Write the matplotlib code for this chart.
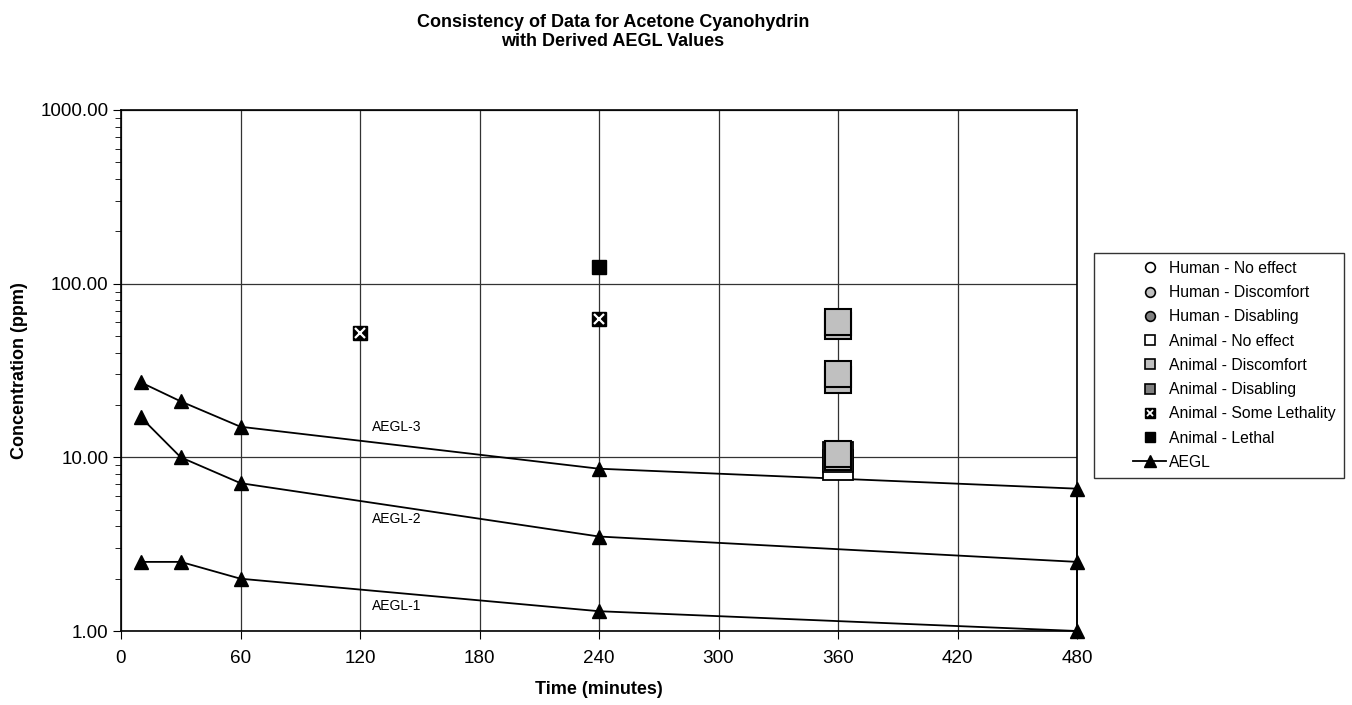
import numpy as np
import matplotlib.pyplot as plt
from matplotlib.lines import Line2D
from matplotlib.legend_handler import HandlerLine2D, HandlerTuple

plt.rcParams['font.family'] = ['Liberation Sans', 'DejaVu Sans']

# AEGL values (ppm) at 10, 30, 60, 240, 480 min
aegl_t = [10, 30, 60, 240, 480]
aegl1 = [2.5, 2.5, 2.0, 1.3, 1.0]
aegl2 = [17, 10, 7.1, 3.5, 2.5]
aegl3 = [27, 21, 15, 8.6, 6.6]

# animal data
noeff_t = [360, 360]
noeff_c = [9.0, 10.0]
discomf_t = [360, 360, 360, 360, 360, 360]
discomf_c = [57, 60, 28, 30, 10.0, 10.5]
somelet_t = [120, 240]
somelet_c = [52, 63]
lethal_t = [240]
lethal_c = [125]

fig = plt.figure(figsize=(13.52, 7.05), dpi=100)
ax = fig.add_axes([121/1352, 1-631/705, (1077-121)/1352, (631-110)/705])

ax.set_yscale('log')
ax.set_xlim(0, 480)
ax.set_ylim(1, 1000)
ax.set_xticks(np.arange(0, 481, 60))
ax.set_yticks([1, 10, 100, 1000])
ax.set_yticklabels(['1.00', '10.00', '100.00', '1000.00'])
ax.grid(True, which='major', color='#333333', lw=0.9)
ax.tick_params(which='both', direction='out', labelsize=13.6, color='black')
ax.tick_params(which='major', length=6)
ax.tick_params(which='minor', length=4)
ax.tick_params(axis='x', pad=8)
ax.tick_params(axis='y', pad=3)
for s in ax.spines.values():
    s.set_color('black')
    s.set_linewidth(1.2)

# AEGL lines
for vals in (aegl1, aegl2, aegl3):
    ax.plot(aegl_t, vals, color='black', lw=1.3, marker='^', ms=10, zorder=4, clip_on=False)
ax.plot([aegl_t[-1]] * 3, [aegl1[-1], aegl2[-1], aegl3[-1]], color='black', lw=1.3, zorder=4,
        clip_on=False)

ax.text(126, 14.9, 'AEGL-3', fontsize=10, va='center')
ax.text(126, 4.4, 'AEGL-2', fontsize=10, va='center')
ax.text(126, 1.39, 'AEGL-1', fontsize=10, va='center')

# data points
ax.plot(noeff_t, noeff_c, ls='none', marker='s', ms=21, mfc='white', mec='black', mew=1.3, zorder=5)
for c in discomf_c:
    ax.plot([discomf_t[0]], [c], ls='none', marker='s', ms=18.5, mfc='#c0c0c0', mec='black',
            mew=1.5, zorder=6)
ax.plot(somelet_t, somelet_c, ls='none', marker='s', ms=10, mfc='black', mec='black', zorder=6)
ax.plot(somelet_t, somelet_c, ls='none', marker='x', ms=7, mec='white', mew=1.6, zorder=7)
ax.plot(lethal_t, lethal_c, ls='none', marker='s', ms=10, mfc='black', mec='black', zorder=6)

ax.set_xlabel('Time (minutes)', fontsize=13, fontweight='bold', labelpad=10)
ax.set_ylabel('Concentration (ppm)', fontsize=13, fontweight='bold', labelpad=9)

fig.text(613/1352, 1-32/705, 'Consistency of Data for Acetone Cyanohydrin\nwith Derived AEGL Values',
         ha='center', va='center', fontsize=13, fontweight='bold', linespacing=1.12)

# legend
ms = 7
handles = [
    Line2D([], [], ls='none', marker='o', ms=ms, mfc='white', mec='black', mew=1.2),
    Line2D([], [], ls='none', marker='o', ms=ms, mfc='#c0c0c0', mec='black', mew=1.2),
    Line2D([], [], ls='none', marker='o', ms=ms, mfc='#808080', mec='black', mew=1.2),
    Line2D([], [], ls='none', marker='s', ms=ms, mfc='white', mec='black', mew=1.2),
    Line2D([], [], ls='none', marker='s', ms=ms, mfc='#c0c0c0', mec='black', mew=1.2),
    Line2D([], [], ls='none', marker='s', ms=ms, mfc='#808080', mec='black', mew=1.2),
    (Line2D([], [], ls='none', marker='s', ms=ms, mfc='black', mec='black'),
     Line2D([], [], ls='none', marker='x', ms=5, mec='white', mew=1.3)),
    Line2D([], [], ls='none', marker='s', ms=ms, mfc='black', mec='black'),
    Line2D([], [], color='black', lw=1.3, marker='^', ms=8),
]
labels = ['Human - No effect', 'Human - Discomfort', 'Human - Disabling',
          'Animal - No effect', 'Animal - Discomfort', 'Animal - Disabling',
          'Animal - Some Lethality', 'Animal - Lethal', 'AEGL']
leg = fig.legend(handles, labels, loc='upper left', bbox_to_anchor=(1094/1352, 1-253/705),
                 fontsize=11.3, frameon=True, fancybox=False, edgecolor='black',
                 handlelength=4.1, handletextpad=0.2, labelspacing=0.59, borderpad=0.5,
                 borderaxespad=0,
                 handler_map={Line2D: HandlerLine2D(xpad=2.0),
                              tuple: HandlerTuple(ndivide=1, xpad=2.0)})
leg.get_frame().set_linewidth(1.0)

fig.savefig('out.png', dpi=100, facecolor='white')
